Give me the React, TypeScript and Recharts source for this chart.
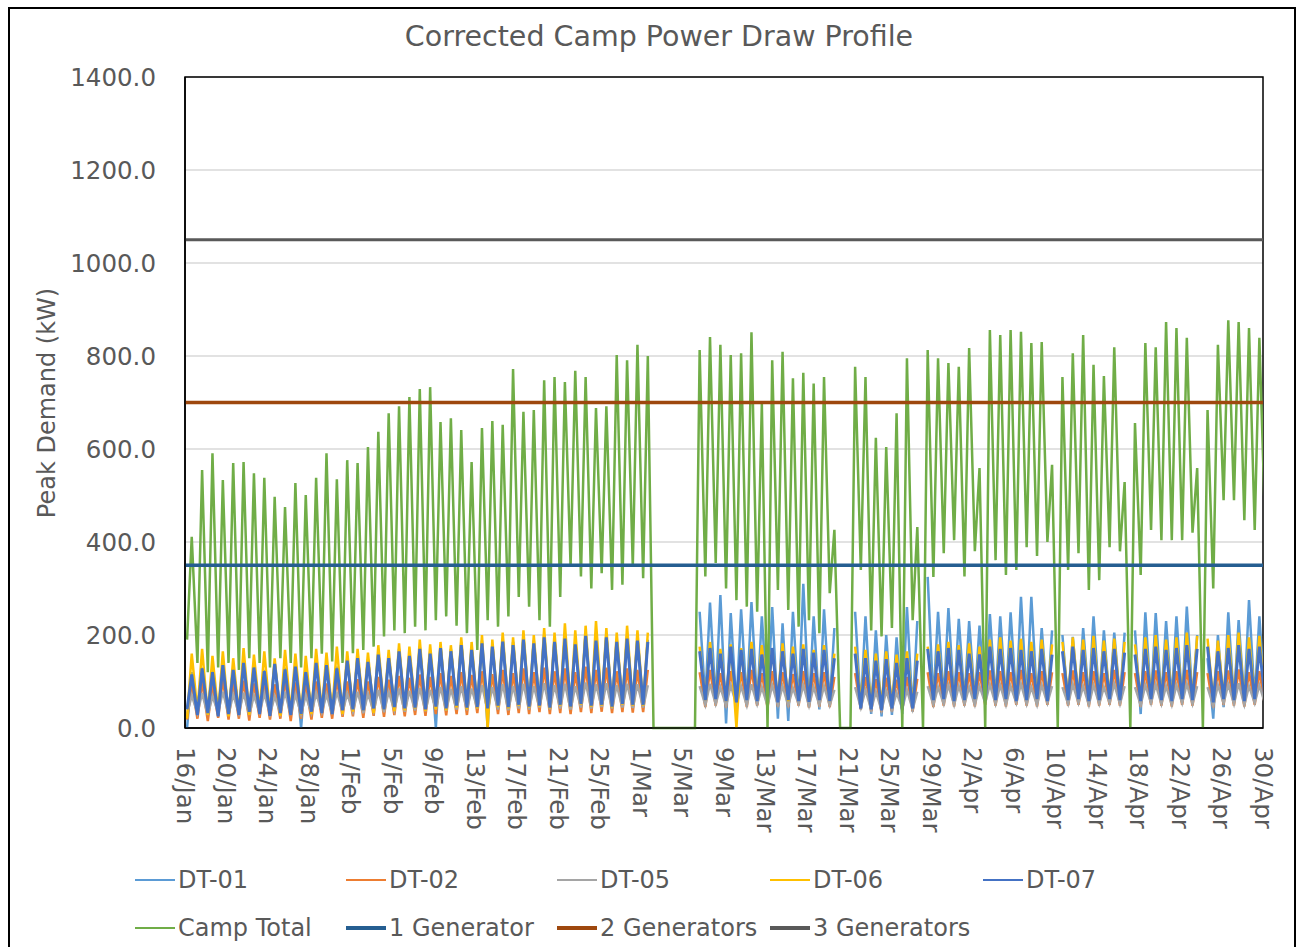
import { LineChart, Line, XAxis, YAxis, CartesianGrid, ReferenceArea } from "recharts"

const n = null

// x axis labels, one every 4 days starting 16/Jan (day 0)
const tickLabels = [
  "16/Jan", "20/Jan", "24/Jan", "28/Jan", "1/Feb", "5/Feb", "9/Feb", "13/Feb", "17/Feb",
  "21/Feb", "25/Feb", "1/Mar", "5/Mar", "9/Mar", "13/Mar", "17/Mar", "21/Mar", "25/Mar",
  "29/Mar", "2/Apr", "6/Apr", "10/Apr", "14/Apr", "18/Apr", "22/Apr", "26/Apr", "30/Apr",
]
const yTicks = [0, 200, 400, 600, 800, 1000, 1200, 1400]

// sampling times within each day (night low, daytime peak)
const LOW_T = 0.2
const PEAK_T = 0.65

// generator capacities (kW)
const generators = [350, 700, 1050]

// Camp total, one row per month: Jan 16-31, Feb, Mar, Apr
const totalPeak = [
  411, 555, 591, 533, 570, 572, 548, 538, 497, 475, 527, 501, 538, 591, 535, 576,
  570, 604, 637, 677, 692, 712, 729, 733, 658, 666, 641, 572, 645, 660, 652, 772, 680, 684, 748, 755, 744, 768, 755, 688, 692, 802, 791, 824,
  800, 0, 0, 0, 0, 813, 841, 824, 802, 806, 851, 698, 791, 809, 752, 764, 741, 755, 426, 0, 777, 755, 624, 604, 677, 795, 432, 813, 795, 785, 777,
  817, 559, 856, 845, 856, 852, 828, 830, 566, 755, 806, 845, 781, 757, 819, 529, 656, 828, 819, 873, 860, 839, 559, 684, 824, 877, 873, 860, 839, 700,
]
const totalLow = [
  190, 140, 120, 130, 140, 125, 150, 140, 130, 150, 140, 130, 150, 160, 143, 140,
  161, 168, 175, 197, 210, 204, 218, 210, 232, 240, 220, 204, 168, 232, 218, 240, 282, 261, 232, 218, 282, 347, 326, 300, 333, 297, 308, 347,
  322, 0, 0, 0, 0, 0, 326, 355, 300, 275, 261, 250, 0, 297, 254, 218, 232, 204, 290, 0, 0, 340, 210, 197, 215, 0, 232, 0, 325, 376, 404,
  326, 380, 0, 361, 329, 340, 389, 370, 400, 0, 340, 376, 297, 318, 389, 380, 0, 329, 426, 404, 404, 404, 420, 0, 300, 490, 490, 447, 426, 440,
]

const dt01Peak = [
  120, 130, 125, 138, 128, 135, 130, 125, 140, 130, 135, 125, 138, 140, 132, 148,
  155, 148, 162, 155, 170, 160, 175, 165, 178, 170, 185, 172, 188, 180, 192, 185, 195, 188, 200, 190, 198, 185, 205, 192, 200, 190, 198, 195,
  190, n, n, n, n, 250, 270, 286, 247, 255, 271, 240, 260, 225, 250, 310, 240, 255, 215, n, 250, 240, 210, 200, 195, 260, 230, 325, 250, 258, 235,
  230, 220, 245, 240, 249, 282, 282, 215, 210, 200, 196, 215, 240, 210, 205, 205, 210, 249, 247, 230, 240, 261, 200, 150, 200, 249, 232, 275, 240, 230,
]
const dt01Low = [
  0, 30, 35, 28, 32, 30, 36, 32, 28, 34, 30, 0, 36, 34, 32, 38,
  40, 36, 42, 38, 44, 40, 42, 38, 0, 40, 46, 42, 44, 0, 46, 44, 48, 45, 46, 42, 48, 44, 50, 46, 48, 44, 50, 48,
  46, n, n, n, n, n, 60, 55, 10, 45, 55, 50, 48, 20, 15, 50, 45, 40, 50, n, n, 40, 30, 25, 28, 30, 35, n, 55, 60, 55,
  58, 60, 55, 60, 58, 55, 60, 58, 55, n, 50, 55, 60, 58, 55, 60, n, 30, 55, 58, 60, 55, 58, n, 20, 45, 55, 58, 60, 55,
]

const dt02Peak = [
  95, 100, 92, 105, 98, 102, 96, 100, 94, 104, 98, 92, 100, 96, 105, 100,
  105, 100, 110, 104, 112, 108, 115, 110, 118, 112, 120, 114, 122, 116, 125, 118, 128, 120, 130, 122, 128, 120, 132, 125, 130, 122, 128, 125,
  125, n, n, n, n, 120, 125, 118, 122, 120, 125, 118, 122, 120, 116, 122, 118, 120, 110, n, 118, 110, 105, 108, 104, 110, 106, 120, 118, 122, 120,
  118, 120, 124, 122, 120, 125, 118, 122, 120, 118, 124, 120, 122, 118, 125, 120, 118, 122, 124, 120, 122, 125, 120, 118, 122, 124, 126, 120, 122, 120,
]
const dt02Low = [
  18, 20, 15, 22, 18, 20, 16, 22, 18, 20, 15, 20, 18, 22, 20, 24,
  25, 22, 26, 24, 28, 25, 28, 26, 30, 27, 30, 28, 32, 28, 30, 28, 32, 30, 34, 30, 32, 30, 34, 32, 35, 32, 34, 33,
  34, n, n, n, n, n, 45, 48, 44, 46, 45, 48, 44, 46, 45, 48, 44, 46, 45, n, n, 40, 36, 34, 36, 38, 36, n, 45, 48, 46,
  48, 46, 50, 48, 46, 50, 48, 46, 50, n, 48, 50, 46, 48, 50, 48, n, 46, 50, 48, 46, 50, 48, n, 44, 50, 48, 46, 50, 48,
]

const dt05Peak = [
  70, 75, 68, 78, 72, 76, 70, 74, 68, 78, 72, 70, 75, 72, 78, 74,
  78, 74, 82, 78, 85, 80, 86, 82, 88, 84, 90, 85, 92, 88, 94, 90, 95, 90, 96, 92, 95, 90, 98, 94, 96, 92, 95, 94,
  92, n, n, n, n, 90, 95, 88, 92, 90, 94, 88, 92, 90, 86, 92, 88, 90, 82, n, 88, 82, 78, 80, 76, 82, 78, 90, 88, 92, 90,
  88, 90, 94, 92, 90, 95, 88, 92, 90, 88, 94, 90, 92, 88, 95, 90, 88, 92, 94, 90, 92, 95, 90, 88, 92, 94, 96, 90, 92, 90,
]
const dt05Low = [
  30, 32, 28, 34, 30, 32, 28, 34, 30, 32, 28, 30, 32, 34, 30, 35,
  35, 32, 36, 34, 38, 35, 38, 36, 40, 37, 40, 38, 42, 38, 40, 38, 42, 40, 44, 40, 42, 40, 44, 42, 45, 42, 44, 43,
  44, n, n, n, n, n, 50, 52, 48, 50, 49, 52, 48, 50, 49, 52, 48, 50, 49, n, n, 44, 40, 38, 40, 42, 40, n, 50, 52, 50,
  52, 50, 54, 52, 50, 54, 52, 50, 54, n, 52, 54, 50, 52, 54, 52, n, 50, 54, 52, 50, 54, 52, n, 48, 54, 52, 50, 54, 52,
]

const dt06Peak = [
  160, 170, 155, 165, 150, 172, 158, 165, 150, 168, 160, 155, 170, 162, 175, 165,
  170, 162, 178, 168, 182, 175, 190, 180, 185, 178, 195, 185, 200, 190, 205, 195, 210, 200, 215, 205, 225, 210, 220, 230, 215, 205, 220, 210,
  205, n, n, n, n, 175, 185, 170, 180, 172, 185, 178, 170, 182, 175, 180, 168, 178, 160, n, 175, 168, 160, 165, 158, 165, 160, 175, 180, 185, 178,
  182, 175, 190, 195, 188, 192, 185, 190, 180, 185, 195, 190, 198, 188, 192, 185, 180, 195, 200, 190, 195, 205, 198, 192, 188, 200, 205, 195, 198, 195,
]
const dt06Low = [
  20, 35, 28, 32, 25, 30, 28, 35, 30, 26, 32, 28, 30, 35, 32, 30,
  35, 38, 32, 40, 36, 38, 42, 36, 40, 38, 44, 40, 42, 0, 45, 42, 48, 44, 46, 42, 48, 45, 50, 46, 48, 44, 50, 48,
  48, n, n, n, n, n, 60, 65, 58, 0, 62, 60, 65, 62, 58, 62, 60, 64, 58, n, n, 55, 50, 48, 52, 55, 50, n, 62, 65, 60,
  62, 64, 60, 62, 65, 60, 62, 64, 60, n, 62, 65, 60, 62, 64, 62, n, 60, 65, 62, 60, 64, 62, n, 58, 64, 62, 60, 65, 62,
]

const dt07Peak = [
  115, 128, 120, 135, 125, 140, 130, 122, 138, 126, 132, 120, 140, 135, 128, 145,
  150, 142, 158, 150, 165, 155, 170, 160, 172, 165, 178, 168, 182, 175, 186, 178, 190, 182, 195, 185, 192, 180, 198, 188, 195, 185, 192, 188,
  185, n, n, n, n, 165, 172, 160, 175, 168, 170, 158, 172, 165, 160, 170, 162, 168, 150, n, 160, 150, 145, 148, 140, 150, 145, 170, 165, 172, 168,
  160, 158, 175, 170, 172, 168, 165, 170, 158, 165, 175, 168, 172, 165, 170, 162, 158, 170, 175, 168, 172, 178, 170, 175, 165, 172, 178, 170, 175, 170,
]
const dt07Low = [
  40, 28, 32, 25, 30, 28, 35, 30, 26, 32, 28, 30, 35, 32, 30, 38,
  40, 38, 42, 40, 45, 42, 44, 40, 46, 42, 48, 44, 45, 42, 48, 45, 50, 46, 48, 44, 50, 46, 52, 48, 50, 46, 52, 50,
  50, n, n, n, n, n, 60, 62, 58, 55, 60, 58, 62, 55, 60, 58, 56, 60, 58, n, n, 42, 40, 38, 42, 40, 42, n, 60, 62, 58,
  60, 62, 58, 60, 62, 58, 60, 62, 58, n, 60, 62, 58, 60, 62, 60, n, 58, 62, 60, 58, 62, 60, n, 55, 62, 60, 58, 62, 60,
]

const rows: any[] = []
totalLow.forEach((_, d) => {
  rows.push({
    t: d + LOW_T, total: totalLow[d], dt01: dt01Low[d], dt02: dt02Low[d],
    dt05: dt05Low[d], dt06: dt06Low[d], dt07: dt07Low[d],
  })
  rows.push({
    t: d + PEAK_T, total: totalPeak[d], dt01: dt01Peak[d], dt02: dt02Peak[d],
    dt05: dt05Peak[d], dt06: dt06Peak[d], dt07: dt07Peak[d],
  })
})

const lastDay = (tickLabels.length - 1) * 4
const genRows = [0, lastDay].map(t => ({ t, g1: generators[0], g2: generators[1], g3: generators[2] }))

const series = [
  { key: "dt01", name: "DT-01", color: "#5B9BD5", width: 2.5 },
  { key: "dt02", name: "DT-02", color: "#ED7D31", width: 2.5 },
  { key: "dt05", name: "DT-05", color: "#A5A5A5", width: 2.5 },
  { key: "dt06", name: "DT-06", color: "#FFC000", width: 2.5 },
  { key: "dt07", name: "DT-07", color: "#4472C4", width: 3 },
  { key: "total", name: "Camp Total", color: "#70AD47", width: 2.5 },
]
const genSeries = [
  { key: "g1", name: "1 Generator", color: "#255E91", width: 3.5 },
  { key: "g2", name: "2 Generators", color: "#9E480E", width: 3.5 },
  { key: "g3", name: "3 Generators", color: "#595959", width: 3 },
]

const FONT = "'DejaVu Sans', sans-serif"
const TEXT = "#595959"

function XTick(props: any) {
  const { x, y, payload } = props
  return (
    <g transform={`translate(${x},${y + 11})`}>
      <text transform="rotate(90)" textAnchor="start" dominantBaseline="central"
        fill={TEXT} fontSize={24.5} fontFamily={FONT}>
        {tickLabels[Math.round(payload.value / 4)]}
      </text>
    </g>
  )
}

function YTick(props: any) {
  const { x, y, payload } = props
  return (
    <text x={x - 21} y={y} textAnchor="end" dominantBaseline="central"
      fill={TEXT} fontSize={24.5} fontFamily={FONT}>
      {payload.value.toFixed(1)}
    </text>
  )
}

const legendRows = [
  [series[0], series[1], series[2], series[3], series[4]],
  [series[5], genSeries[0], genSeries[1], genSeries[2]],
]
const legendX = [135, 346, 557, 770, 983]
const legendY = [880, 928]

export default function App() {
  return (
    <div style={{ position: "fixed", left: 0, top: 0, width: 1296, height: 947, overflow: "hidden", background: "#fff", fontFamily: FONT }}>
      <div style={{ position: "absolute", left: 8, top: 7, width: 1288, height: 1000, border: "2px solid #000", boxSizing: "border-box" }} />
      <div style={{ position: "absolute", left: 0, top: 20, width: 1318, textAlign: "center", fontSize: 28.5, color: TEXT }}>
        Corrected Camp Power Draw Profile
      </div>
      <div style={{ position: "absolute", left: 47, top: 403, transform: "translate(-50%,-50%) rotate(-90deg)", whiteSpace: "nowrap", fontSize: 24, color: TEXT }}>
        Peak Demand (kW)
      </div>
      <div style={{ position: "absolute", left: 8, top: 8 }}>
        <LineChart width={1280} height={930} data={rows} margin={{ top: 69, right: 25, left: 0, bottom: 0 }}>
          <CartesianGrid vertical={false} stroke="#d9d9d9" strokeWidth={1.5} />
          <XAxis
            dataKey="t"
            type="number"
            domain={[0, lastDay]}
            ticks={tickLabels.map((_, i) => i * 4)}
            interval={0}
            allowDataOverflow
            tick={<XTick />}
            tickLine={false}
            axisLine={{ stroke: "#000", strokeWidth: 1.5 }}
            height={210}
          />
          <YAxis
            domain={[0, 1400]}
            ticks={yTicks}
            interval={0}
            width={177}
            tick={<YTick />}
            tickLine={false}
            axisLine={{ stroke: "#000", strokeWidth: 1.5 }}
          />
          {series.map(s => (
            <Line key={s.key} type="linear" dataKey={s.key} stroke={s.color} strokeWidth={s.width}
              dot={false} isAnimationActive={false} connectNulls={false} />
          ))}
          {genSeries.map(s => (
            <Line key={s.key} data={genRows} type="linear" dataKey={s.key} stroke={s.color} strokeWidth={s.width}
              dot={false} isAnimationActive={false} />
          ))}
          <ReferenceArea x1={0} x2={lastDay} y1={0} y2={1400} fill="none" stroke="#000" strokeWidth={1.5} ifOverflow="visible" />
        </LineChart>
      </div>
      {legendRows.map((row, r) =>
        row.map((s, i) => (
          <div key={s.key} style={{ position: "absolute", left: legendX[i], top: legendY[r] - 16, height: 32, display: "flex", alignItems: "center", whiteSpace: "nowrap", fontSize: 24, color: TEXT }}>
            <span style={{ display: "inline-block", width: 40, height: s.key.startsWith("g") ? 4 : 2, background: s.color, marginRight: 3 }} />
            {s.name}
          </div>
        ))
      )}
    </div>
  )
}
